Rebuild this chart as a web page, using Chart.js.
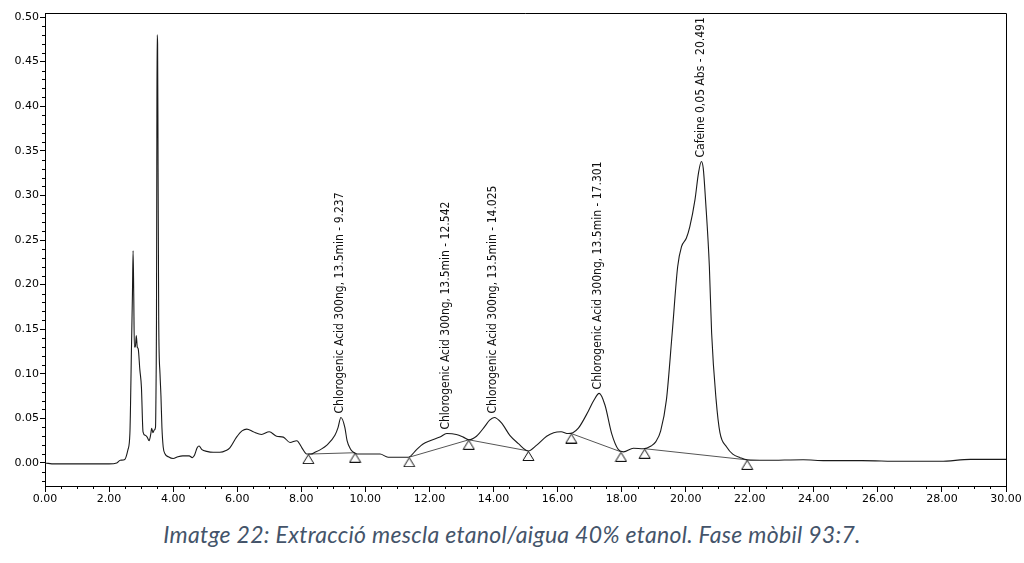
<!DOCTYPE html>
<html lang="ca">

<head>
  <meta charset="utf-8">
  <style>
    body {
      margin: 0;
      background-color: #ffffff;
      width: 1024px;
      height: 563px;
      overflow: hidden;
    }

    .chart-container {
      position: absolute;
      left: 0;
      top: 0;
      width: 1024px;
      height: 510px;
    }

    .caption {
      position: absolute;
      left: 0;
      top: 520px;
      width: 1024px;
      text-align: center;
      font-family: Lato, "Open Sans", sans-serif;
      font-style: italic;
      font-size: 23px;
      letter-spacing: 0.3px;
      color: #44546a;
    }
  </style>
</head>

<body>
  <div class="chart-container">
    <canvas id="myChart"></canvas>
  </div>
  <div class="caption">Imatge 22: Extracció mescla etanol/aigua 40% etanol. Fase mòbil 93:7.</div>

  <script src="https://cdn.jsdelivr.net/npm/chart.js"></script>
  <script>

    // retention time (min)
    const times = [
      0, 0.3, 1.0, 2.0, 2.24, 2.35, 2.49, 2.59, 2.65, 2.70, 2.73, 2.75, 2.77, 2.79, 2.82, 2.85, 2.88, 2.91, 2.96, 3.01,
      3.06, 3.13, 3.19, 3.25, 3.30, 3.33, 3.37, 3.41, 3.45, 3.47, 3.48, 3.49, 3.50, 3.515, 3.53, 3.55, 3.59, 3.62, 3.65, 3.69,
      3.75, 3.85, 4.00, 4.15, 4.30, 4.50, 4.60, 4.67, 4.75, 4.81, 4.90, 5.05, 5.25, 5.46, 5.65, 5.77, 5.98, 6.15, 6.30, 6.50,
      6.76, 7.00, 7.23, 7.44, 7.65, 7.86, 8.02, 8.17, 8.30, 8.43, 8.60, 8.80, 9.05, 9.15, 9.237, 9.36, 9.43, 9.53, 9.63, 9.75,
      10.0, 10.46, 10.71, 11.0, 11.34, 11.60, 11.79, 12.02, 12.33, 12.542, 12.84, 13.06, 13.23, 13.47, 13.73, 13.88, 14.025, 14.25, 14.51, 14.77,
      15.09, 15.35, 15.66, 15.88, 16.11, 16.33, 16.48, 16.65, 16.96, 17.13, 17.301, 17.48, 17.69, 17.90, 18.06, 18.37, 18.68, 18.92, 19.07, 19.22,
      19.40, 19.58, 19.75, 19.87, 20.02, 20.13, 20.29, 20.40, 20.491, 20.55, 20.62, 20.74, 20.81, 20.95, 21.07, 21.28, 21.47, 21.70, 21.92, 22.5,
      23.67, 24.36, 25.5, 26.72, 27.95, 28.89, 30.0
    ];

    // absorbance (AU)
    const absorbance = [
      0.0, -0.001, -0.001, -0.001, 0.0, 0.003, 0.004, 0.015, 0.033, 0.13, 0.19, 0.238, 0.19, 0.13, 0.13, 0.143, 0.13, 0.128, 0.105, 0.085,
      0.035, 0.031, 0.029, 0.025, 0.032, 0.039, 0.034, 0.037, 0.040, 0.10, 0.158, 0.33, 0.480, 0.47, 0.33, 0.16, 0.10, 0.075, 0.04, 0.018,
      0.010, 0.007, 0.005, 0.007, 0.008, 0.008, 0.006, 0.009, 0.017, 0.019, 0.015, 0.013, 0.012, 0.012, 0.014, 0.017, 0.029, 0.036, 0.038, 0.035,
      0.032, 0.035, 0.030, 0.029, 0.023, 0.025, 0.017, 0.010, 0.010, 0.012, 0.015, 0.020, 0.031, 0.040, 0.051, 0.040, 0.025, 0.016, 0.012, 0.010,
      0.010, 0.010, 0.0065, 0.0065, 0.0065, 0.015, 0.021, 0.025, 0.029, 0.033, 0.032, 0.029, 0.026, 0.030, 0.041, 0.048, 0.051, 0.045, 0.031, 0.022,
      0.0135, 0.020, 0.030, 0.034, 0.035, 0.033, 0.034, 0.039, 0.058, 0.070, 0.078, 0.065, 0.033, 0.015, 0.0125, 0.0165, 0.016, 0.019, 0.024, 0.036,
      0.071, 0.146, 0.22, 0.2425, 0.252, 0.265, 0.295, 0.325, 0.338, 0.33, 0.295, 0.22, 0.146, 0.071, 0.034, 0.018, 0.010, 0.006, 0.0035, 0.003,
      0.0037, 0.0026, 0.0026, 0.0019, 0.0019, 0.004, 0.004
    ];

    // integration baseline points (triangles)
    const markTimes = [8.22, 9.68, 11.37, 13.23, 15.09, 16.43, 17.98, 18.72, 21.92];
    const markAbs = [0.010, 0.0115, 0.0065, 0.026, 0.0135, 0.033, 0.0125, 0.016, 0.0035];
    const baseSegments = [[0, 1], [2, 3], [3, 4], [5, 6], [7, 8]];

    // named peaks
    const peakNames = [
      'Chlorogenic Acid 300ng, 13.5min - 9.237',
      'Chlorogenic Acid 300ng, 13.5min - 12.542',
      'Chlorogenic Acid 300ng, 13.5min - 14.025',
      'Chlorogenic Acid 300ng, 13.5min - 17.301',
      'Cafeine 0,05 Abs - 20.491'
    ];
    const peakTimes = [9.237, 12.542, 14.025, 17.301, 20.491];
    const peakAbs = [0.051, 0.033, 0.051, 0.078, 0.338];

    const xTickStep = 2;
    const yTickStep = 0.05;

    /* ------------------------------------------------ */

    function triangleMarker() {
      const c = document.createElement('canvas');
      c.width = 13;
      c.height = 20;
      const g = c.getContext('2d');
      g.beginPath();
      g.moveTo(6.5, 10.5);
      g.lineTo(12, 19.5);
      g.lineTo(1, 19.5);
      g.closePath();
      g.fillStyle = '#ffffff';
      g.fill();
      g.strokeStyle = '#111111';
      g.lineWidth = 1;
      g.stroke();
      return c;
    }

    let baseData = [];
    baseSegments.forEach((seg, i) => {
      if (i > 0) baseData.push({ x: markTimes[seg[0]], y: null });
      baseData.push({ x: markTimes[seg[0]], y: markAbs[seg[0]] });
      baseData.push({ x: markTimes[seg[1]], y: markAbs[seg[1]] });
    });

    const frameAndMinor = {
      id: 'frameAndMinor',
      afterDraw(chart) {
        const ctx = chart.ctx;
        const area = chart.chartArea;
        const xs = chart.scales.x;
        const ys = chart.scales.y;
        ctx.save();
        ctx.strokeStyle = '#000000';
        ctx.lineWidth = 1;
        ctx.beginPath();
        ctx.moveTo(area.left, area.top + 0.5);
        ctx.lineTo(area.right + 0.5, area.top + 0.5);
        ctx.lineTo(area.right + 0.5, area.bottom);
        ctx.stroke();
        // minor ticks
        ctx.beginPath();
        for (let v = 0.5; v < 30; v += 0.5) {
          if (Math.abs(v / xTickStep - Math.round(v / xTickStep)) < 1e-6) continue;
          const px = Math.round(xs.getPixelForValue(v)) + 0.5;
          ctx.moveTo(px, area.bottom);
          ctx.lineTo(px, area.bottom + 3);
        }
        for (let k = -2; k <= 50; k++) {
          if (k % 5 === 0) continue;
          const py = Math.round(ys.getPixelForValue(k * 0.01)) + 0.5;
          ctx.moveTo(area.left, py);
          ctx.lineTo(area.left - 3, py);
        }
        ctx.stroke();
        ctx.restore();
      }
    };

    const peakLabels = {
      id: 'peakLabels',
      afterDatasetsDraw(chart) {
        const ctx = chart.ctx;
        const xs = chart.scales.x;
        const ys = chart.scales.y;
        ctx.save();
        ctx.font = '12px "Liberation Sans Narrow", "DejaVu Sans Condensed", sans-serif';
        ctx.fillStyle = '#111111';
        ctx.textAlign = 'left';
        ctx.textBaseline = 'middle';
        peakNames.forEach((name, i) => {
          const px = xs.getPixelForValue(peakTimes[i]);
          const py = ys.getPixelForValue(peakAbs[i]);
          ctx.save();
          ctx.translate(px - 1, py - 4);
          ctx.rotate(-Math.PI / 2);
          ctx.fillText(name, 0, 0);
          ctx.restore();
        });
        ctx.restore();
      }
    };

    buildChart();

    /* ------------------------------------------------ */

    function buildChart() {
      const ctx = document.getElementById('myChart').getContext('2d');
      const tickFont = { family: '"DejaVu Sans", sans-serif', size: 11 };

      new Chart(ctx, {
        type: 'line',
        data: {
          datasets: [
            {
              label: 'Baseline',
              data: baseData,
              borderColor: '#555555',
              borderWidth: 1,
              pointRadius: 0,
              spanGaps: false,
              order: 2
            },
            {
              label: 'Signal',
              data: times.map((t, i) => ({ x: t, y: absorbance[i] })),
              borderColor: '#1a1a1a',
              borderWidth: 1.1,
              pointRadius: 0,
              cubicInterpolationMode: 'monotone',
              order: 1
            },
            {
              label: 'Marks',
              data: markTimes.map((t, i) => ({ x: t, y: markAbs[i] })),
              showLine: false,
              pointStyle: triangleMarker(),
              pointRadius: 6,
              order: 0
            }
          ]
        },
        options: {
          responsive: true,
          maintainAspectRatio: false,
          animation: false,
          layout: {
            padding: { top: 13, right: 18, left: 0, bottom: 0 }
          },
          scales: {
            x: {
              type: 'linear',
              min: 0,
              max: 30,
              afterFit: (s) => { s.height = 24; },
              border: { display: true, color: '#000000', width: 1 },
              grid: { drawOnChartArea: false, drawTicks: true, tickLength: 6, tickColor: '#000000' },
              ticks: {
                stepSize: xTickStep,
                autoSkip: false,
                maxRotation: 0,
                padding: 1,
                color: '#000000',
                font: tickFont,
                callback: (v) => Number(v).toFixed(2)
              }
            },
            y: {
              min: -0.0258,
              max: 0.5045,
              afterFit: (s) => { s.width = 45; },
              border: { display: true, color: '#000000', width: 1 },
              grid: { drawOnChartArea: false, drawTicks: true, tickLength: 5, tickColor: '#000000' },
              ticks: {
                stepSize: yTickStep,
                includeBounds: false,
                padding: 1,
                color: '#000000',
                font: tickFont,
                callback: (v) => Math.abs(v).toFixed(2)
              }
            }
          },
          plugins: {
            legend: { display: false },
            tooltip: { enabled: false }
          }
        },
        plugins: [frameAndMinor, peakLabels]
      });
    }

  </script>
</body>

</html>
